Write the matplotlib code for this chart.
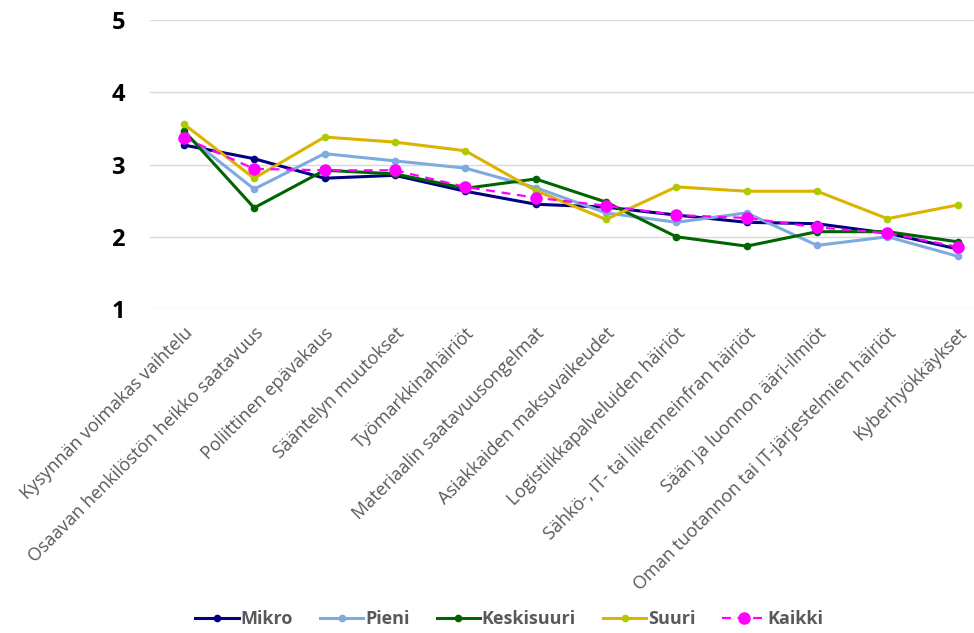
import numpy as np
import matplotlib
matplotlib.use("Agg")
import matplotlib.pyplot as plt

plt.rcParams['font.family'] = ['Open Sans', 'DejaVu Sans']

categories = ['Kysynnän voimakas vaihtelu', 'Osaavan henkilöstön heikko saatavuus',
              'Poliittinen epävakaus', 'Sääntelyn muutokset', 'Työmarkkinahäiriöt',
              'Materiaalin saatavuusongelmat', 'Asiakkaiden maksuvaikeudet',
              'Logistiikkapalveluiden häiriöt', 'Sähkö-, IT- tai liikenneinfran häiriöt',
              'Sään ja luonnon ääri-ilmiöt', 'Oman tuotannon tai IT-järjestelmien häiriöt',
              'Kyberhyökkäykset']

mikro = [3.27, 3.08, 2.81, 2.85, 2.63, 2.45, 2.41, 2.30, 2.20, 2.18, 2.05, 1.83]
pieni = [3.43, 2.66, 3.15, 3.05, 2.95, 2.68, 2.33, 2.20, 2.33, 1.88, 2.00, 1.73]
keskisuuri = [3.47, 2.40, 2.92, 2.87, 2.67, 2.80, 2.48, 2.00, 1.87, 2.07, 2.07, 1.93]
suuri = [3.56, 2.81, 3.38, 3.31, 3.19, 2.64, 2.24, 2.69, 2.63, 2.63, 2.25, 2.44]
kaikki = [3.37, 2.94, 2.92, 2.92, 2.69, 2.54, 2.43, 2.30, 2.26, 2.13, 2.05, 1.86]

fig = plt.figure(figsize=(9.74, 6.33), dpi=100)
ax = fig.add_axes([150/974, 324/633, 824/974, 289/633])

x = np.arange(len(categories))
ax.plot(x, mikro, color='#000080', lw=2.2, marker='o', ms=4.5, label='Mikro')
ax.plot(x, pieni, color='#7FAAE0', lw=2.2, marker='o', ms=4.5, label='Pieni')
ax.plot(x, keskisuuri, color='#006400', lw=2.2, marker='o', ms=4.5, label='Keskisuuri')
ax.plot(x, suuri, color='#DCB300', lw=2.2, marker='o', ms=4.5,
        mfc='#AECB00', mec='#AECB00', label='Suuri')
ax.plot(x, kaikki, color='#FF00FF', lw=1.6, ls=(0, (4, 3)), marker='o', ms=8, label='Kaikki')

ax.set_ylim(1, 5)
ax.set_xlim(-0.48, 11.23)
ax.set_yticks([1, 2, 3, 4, 5])
ax.yaxis.grid(True, color='#D9D9D9', lw=1)
ax.set_axisbelow(True)
for s in ax.spines.values():
    s.set_visible(False)
ax.tick_params(axis='both', length=0)
ax.tick_params(axis='y', pad=18)
for lab in ax.get_yticklabels():
    lab.set_fontsize(17)
    lab.set_fontweight('bold')
    lab.set_color('black')

ax.set_xticks(x)
ax.set_xticklabels(categories, rotation=45, ha='right', rotation_mode='anchor',
                   fontsize=13, color='#595959')
ax.tick_params(axis='x', pad=11)

leg = fig.legend(loc='lower center', bbox_to_anchor=(0.523, -0.018), ncol=5, frameon=False,
                 prop={'size': 13, 'weight': 'bold'}, handlelength=2.4, handletextpad=0.1,
                 columnspacing=1.5)
for t in leg.get_texts():
    t.set_color('#595959')

fig.savefig('out.png', dpi=100)
